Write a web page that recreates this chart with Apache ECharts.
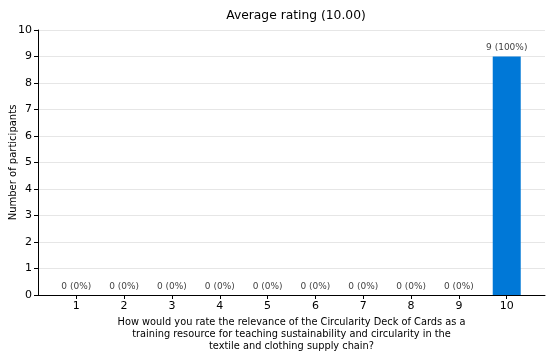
<!DOCTYPE html>
<html>
<head>
<meta charset="utf-8">
<script src="https://cdn.jsdelivr.net/npm/echarts@6/dist/echarts.min.js"></script>
<style>html,body{margin:0;padding:0;background:#fff}#c{width:550px;height:354px}</style>
</head>
<body>
<div id="c"></div>
<script>
const titleText = 'Average rating (10.00)';
const categories = [1, 2, 3, 4, 5, 6, 7, 8, 9, 10];
const counts = [0, 0, 0, 0, 0, 0, 0, 0, 0, 9];
const yTicks = [0, 1, 2, 3, 4, 5, 6, 7, 8, 9, 10];
const xTitle = 'How would you rate the relevance of the Circularity Deck of Cards as a\ntraining resource for teaching sustainability and circularity in the\ntextile and clothing supply chain?';
const yTitle = 'Number of participants';

const total = counts.reduce((a, b) => a + b, 0);
const font = 'DejaVu Sans';
const chart = echarts.init(document.getElementById('c'), null, {renderer: 'canvas'});
chart.setOption({
  animation: false,
  title: {
    text: titleText, left: 291, top: 5, textAlign: 'center',
    textStyle: {fontFamily: font, fontSize: 12.3, fontWeight: 'normal', color: '#000'}
  },
  grid: {left: 38, top: 30, width: 507, height: 265, containLabel: false, outerBoundsMode: 'none'},
  xAxis: {
    type: 'value', min: 0.2, max: 10.8,
    axisLine: {show: true, lineStyle: {color: '#000', width: 1}},
    axisTick: {show: true, customValues: categories, length: 4, lineStyle: {color: '#000'}},
    axisLabel: {customValues: categories, fontFamily: font, fontSize: 11, color: '#000', margin: 6},
    splitLine: {show: false},
    name: xTitle, nameLocation: 'middle', nameGap: 21, nameMoveOverlap: false,
    nameTextStyle: {fontFamily: font, fontSize: 9.8, color: '#000', lineHeight: 12, align: 'center'}
  },
  yAxis: {
    type: 'value', min: 0, max: 10, interval: 1,
    axisLine: {show: true, lineStyle: {color: '#000', width: 1}},
    axisTick: {show: true, length: 4, lineStyle: {color: '#000'}},
    axisLabel: {fontFamily: font, fontSize: 11, color: '#000', margin: 6},
    splitLine: {show: true, lineStyle: {color: '#e6e6e6', width: 1}},
    name: yTitle, nameLocation: 'middle', nameGap: 20, nameMoveOverlap: false,
    nameTextStyle: {fontFamily: font, fontSize: 10, color: '#000'}
  },
  series: [{
    type: 'bar',
    data: categories.map((c, i) => [c, counts[i]]),
    barWidth: 28,
    itemStyle: {color: '#0078d7'},
    label: {
      show: true, position: 'top', distance: 4,
      fontFamily: font, fontSize: 9, color: '#444',
      formatter: p => {
        const v = p.value[1];
        return v + ' (' + Math.round(total ? v / total * 100 : 0) + '%)';
      }
    }
  }]
});
</script>
</body>
</html>
